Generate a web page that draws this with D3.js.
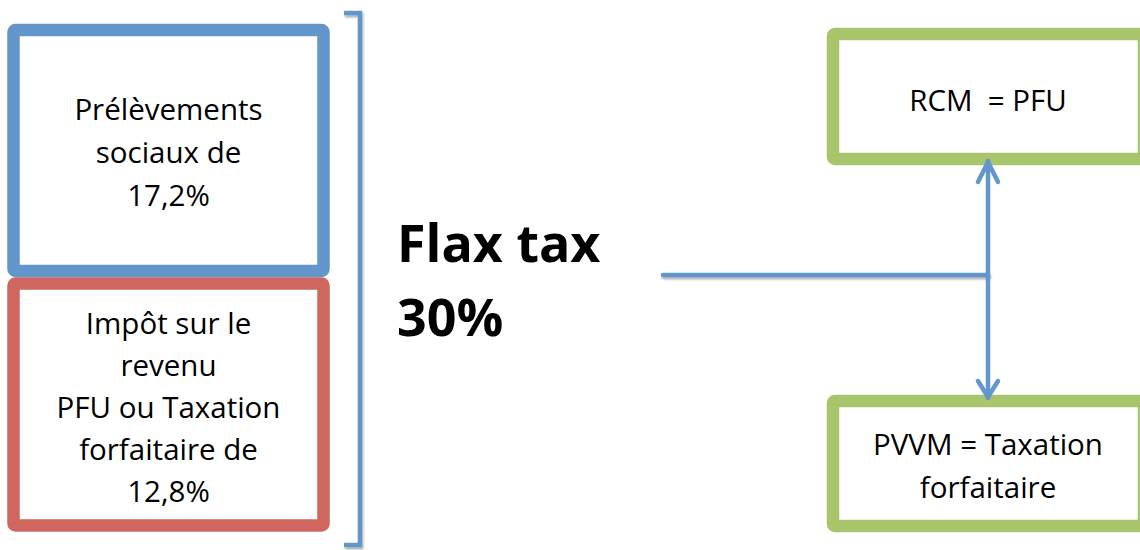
<!DOCTYPE html>
<html>
<head>
<meta charset="utf-8">
<script src="https://cdn.jsdelivr.net/npm/d3@7"></script>
<style>
  body { margin: 0; background: #fff; }
  text { font-family: "Open Sans", sans-serif; fill: #000; white-space: pre; }
</style>
</head>
<body>
<div id="chart-area"></div>
<script>
// texts of the diagram
const socialLines = ["Prélèvements", "sociaux de", "17,2%"];
const incomeLines = ["Impôt sur le", "revenu", "PFU ou Taxation", "forfaitaire de", "12,8%"];
const rcmLines = ["RCM  = PFU"];
const pvvmLines = ["PVVM = Taxation", "forfaitaire"];
const flatLines = ["Flax tax", "30%"];

const width = 1140;
const height = 550;

const svg = d3.select("#chart-area")
    .append("svg")
    .attr("width", width)
    .attr("height", height);

// shadow under the connector lines (user space, a flat line has no bbox height)
svg.append("defs").append("filter")
    .attr("id", "shadow")
    .attr("filterUnits", "userSpaceOnUse")
    .attr("x", 0).attr("y", 0)
    .attr("width", width).attr("height", height)
    .append("feDropShadow")
    .attr("dx", 1).attr("dy", 2)
    .attr("stdDeviation", 1.2)
    .attr("flood-color", "#000")
    .attr("flood-opacity", 0.35);

const blue = "#6397cb";
const red = "#d0675f";
const green = "#a9c56b";

// boxes: stroke drawn on the centre line of the thick border
const boxes = [
    {x0: 13.5, y0: 30, x1: 323.5, y1: 271, color: blue, lines: socialLines, base: 120, step: 43},
    {x0: 13.5, y0: 283.5, x1: 323.5, y1: 525.5, color: red, lines: incomeLines, base: 334, step: 42},
    {x0: 833, y0: 34, x1: 1144, y1: 159, color: green, lines: rcmLines, base: 111, step: 43},
    {x0: 833, y0: 401, x1: 1144, y1: 526, color: green, lines: pvvmLines, base: 455, step: 43}
];

const g = svg.selectAll("g.box")
    .data(boxes)
    .enter()
    .append("g")
    .attr("class", "box");

g.append("rect")
    .attr("x", d => d.x0)
    .attr("y", d => d.y0)
    .attr("width", d => d.x1 - d.x0)
    .attr("height", d => d.y1 - d.y0)
    .attr("rx", 2)
    .attr("fill", "#fff")
    .attr("stroke", d => d.color)
    .attr("stroke-width", 12.5);

g.each(function(d) {
    const cx = d.x1 > width ? 988 : (d.x0 + d.x1) / 2;
    d3.select(this).selectAll("text")
        .data(d.lines)
        .enter()
        .append("text")
        .attr("x", cx)
        .attr("y", (t, i) => d.base + i * d.step)
        .attr("text-anchor", "middle")
        .attr("font-size", 29.5)
        .text(t => t);
});

// bracket on the right of the left boxes
svg.append("path")
    .attr("d", "M344,13 H360 V545 H344")
    .attr("fill", "none")
    .attr("stroke", blue)
    .attr("stroke-width", 4.5)
    .attr("filter", "url(#shadow)");

// big label
svg.selectAll("text.flat")
    .data(flatLines)
    .enter()
    .append("text")
    .attr("class", "flat")
    .attr("x", 397)
    .attr("y", (t, i) => 262 + i * 74)
    .attr("font-size", 52)
    .attr("font-weight", "bold")
    .text(t => t);

// connector lines
const conn = svg.append("g")
    .attr("fill", "none")
    .attr("stroke", blue)
    .attr("stroke-width", 4.5)
    .attr("stroke-linecap", "round")
    .attr("stroke-linejoin", "round");

conn.append("path")
    .attr("d", "M663,275 H988")
    .attr("filter", "url(#shadow)");
conn.append("path")
    .attr("d", "M988,161 V398");
conn.append("path")
    .attr("d", "M978,182 L988,162 L998,182");
conn.append("path")
    .attr("d", "M978,381 L988,397 L998,381");
</script>
</body>
</html>
